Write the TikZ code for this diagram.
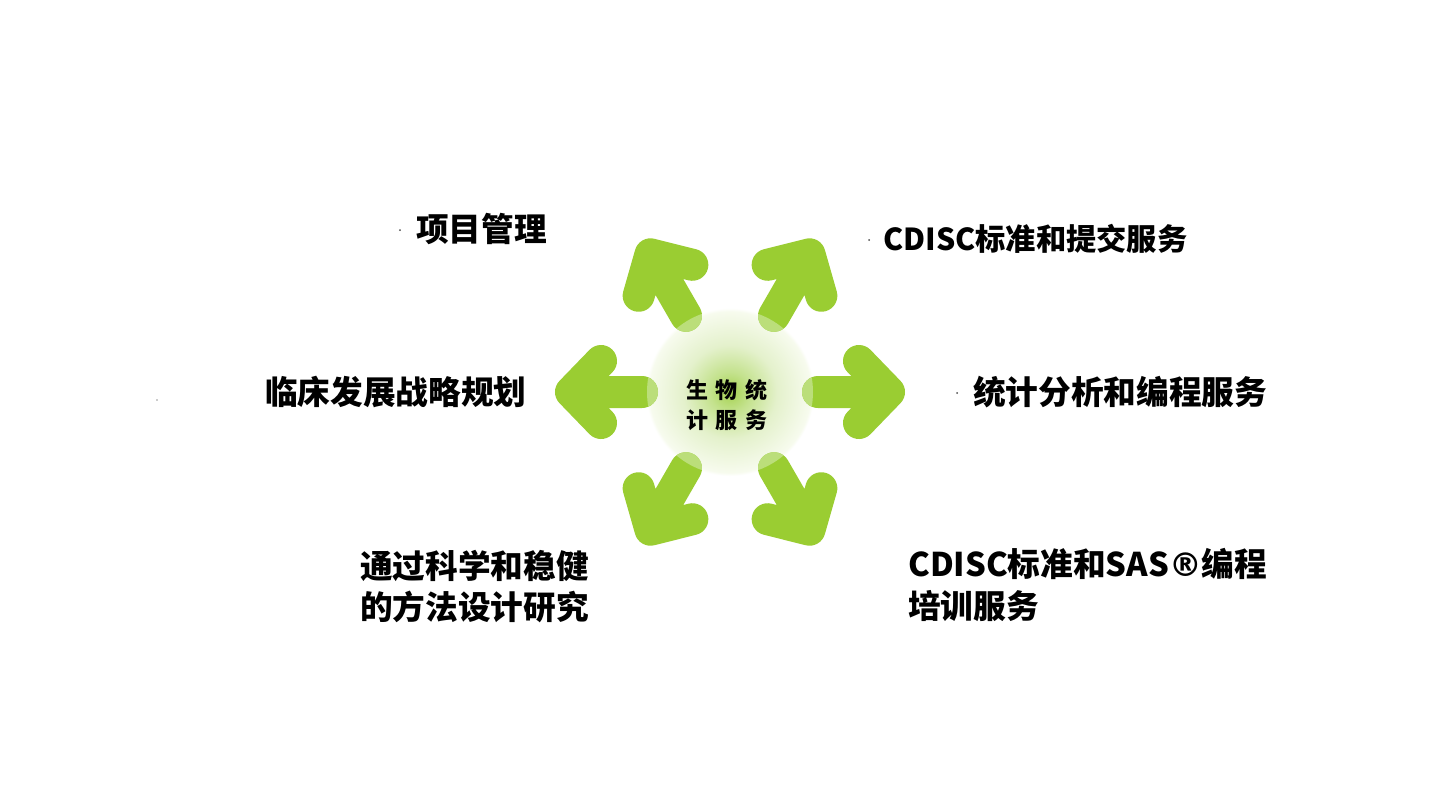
\documentclass[tikz,border=0pt]{standalone}
\usepackage{fontspec}
\newfontfamily\cjk{Noto Sans CJK SC}
\newfontfamily\djv{DejaVu Sans}
\definecolor{arrg}{RGB}{154,205,50}
\definecolor{lightg}{RGB}{187,222,122}
\definecolor{g0}{RGB}{165,210,80}
\definecolor{g1}{RGB}{196,226,142}
\definecolor{g2}{RGB}{228,241,204}
\definecolor{g3}{RGB}{247,251,238}
\pgfdeclareradialshading{glow}{\pgfpointorigin}{color(0bp)=(g0); color(6bp)=(g1); color(14bp)=(g2); color(24bp)=(g3); color(25bp)=(white); color(50bp)=(white)}
\tikzset{
  arr/.style={draw=arrg, line width=24pt, line cap=round, line join=round},
  lbl/.style={anchor=west, inner sep=0pt, align=left, font=\cjk\bfseries\fontsize{24.5}{31}\selectfont},
  ctr/.style={inner sep=0pt, font=\cjk\bfseries\fontsize{16.5}{20}\selectfont},
  dotmark/.style={fill=black!70}
}
\begin{document}
\begin{tikzpicture}[x=0.75pt,y=0.75pt]
\fill[white] (-730,-412) rectangle (718,392);
\useasboundingbox (-730,-412) rectangle (718,392);
\shade[shading=glow] (0,0) circle (84);
\foreach \a in {0,60,120,180,240,300} {
  \draw[arr, rotate=\a] (88,0) -- (159,0) (129,31) -- (159,0) -- (129,-31);
}
\begin{scope}
  \clip (0,0) circle (83);
  \foreach \a in {0,60,120,180,240,300} {
    \draw[arr, draw=lightg, rotate=\a] (88,0) -- (120,0);
  }
\end{scope}
\node[ctr] (c1) at (-3,2) {生\hspace{6pt}物\hspace{6pt}统};
\node[ctr] (c2) at (-3,-28) {计\hspace{6pt}服\hspace{6pt}务};
\node[lbl] (pm) at (-314,163) {项目管理};
\node[lbl, font=\cjk\bfseries\fontsize{22.7}{30}\selectfont] (cdisc) at (153,153) {CDISC标准和提交服务};
\node[lbl] (clin) at (-465,0) {临床发展战略规划};
\node[lbl] (stat) at (243,0) {统计分析和编程服务};
\node[lbl] (study) at (-370,-194.5) {通过科学和稳健\\的方法设计研究};
\node[lbl] (train) at (178,-193) {CDISC标准和SAS{\djv\bfseries ®}编程\\培训服务};
\fill[dotmark] (-330,162) circle (1);
\fill[dotmark] (139,152) circle (1);
\fill[dotmark] (227,-1) circle (1);
\fill[black!40] (-573,-8) circle (0.8);
\end{tikzpicture}
\end{document}
